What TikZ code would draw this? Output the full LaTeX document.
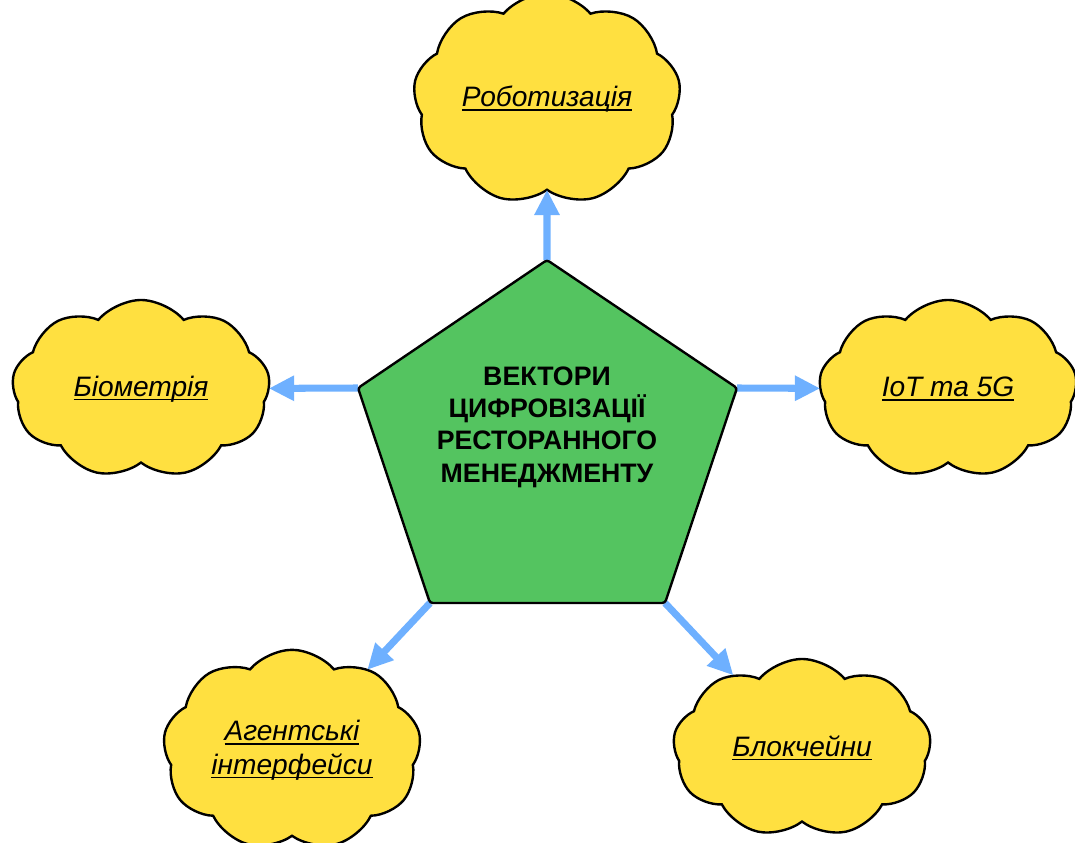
\documentclass[tikz,border=0pt]{standalone}
\usepackage{fontspec}
\setmainfont{Liberation Sans}
\usetikzlibrary{shapes.symbols,arrows.meta}

\definecolor{cloudYellow}{RGB}{255,224,64}
\definecolor{hubGreen}{RGB}{84,196,96}
\definecolor{arrowBlue}{RGB}{110,176,255}

% underlined trend label
\newcommand{\trendLine}[1]{\setbox0\hbox{#1}\rlap{\rule[-3pt]{\wd0}{1.1pt}}\box0}

\tikzset{
	trendCloud/.style = {cloud, cloud puffs=9, cloud puff arc=100, aspect=1.4,
		draw=black, line width=1.7pt, fill=cloudYellow,
		minimum width=6.45cm, minimum height=4.45cm, align=center,
		font=\fontsize{20}{24}\selectfont\itshape},
	trendArrow/.style = {arrowBlue, line width=5pt, -{Triangle[length=18pt,width=17pt]}, shorten >=-1pt}
}

\begin{document}
\begin{tikzpicture}
	\useasboundingbox (0,0) rectangle (26.875,21.075);

	% pentagon
	\coordinate (hubTop) at (13.675,14.575);
	\coordinate (hubRight) at (18.425,11.375);
	\coordinate (hubLowRight) at (16.625,6.0);
	\coordinate (hubLowLeft) at (10.75,6.0);
	\coordinate (hubLeft) at (8.95,11.375);

	% clouds
	\node[trendCloud] (robotics) at (13.675,18.6) {\trendLine{Роботизація}};
	\node[trendCloud] (biometrics) at (3.525,11.35) {\trendLine{Біометрія}};
	\node[trendCloud] (iot) at (23.7,11.35) {\trendLine{IoT та 5G}};
	\node[trendCloud] (agents) at (7.3,2.325) {\trendLine{Агентські}\\\trendLine{інтерфейси}};
	\node[trendCloud] (blockchain) at (20.05,2.375) {\trendLine{Блокчейни}};

	% arrows
	\draw[trendArrow] (hubTop) -- (robotics);
	\draw[trendArrow] (hubLeft) -- (biometrics);
	\draw[trendArrow] (hubRight) -- (iot);
	\draw[trendArrow] (hubLowLeft) -- (agents);
	\draw[trendArrow] (hubLowRight) -- (blockchain);

	\draw[fill=hubGreen, line width=1.7pt, rounded corners=2pt]
		(hubTop) -- (hubRight) -- (hubLowRight) -- (hubLowLeft) -- (hubLeft) -- cycle;
	\node[align=center, font=\fontsize{19}{23}\selectfont\bfseries] (hub) at (13.675,10.4)
		{ВЕКТОРИ\\ЦИФРОВІЗАЦІЇ\\РЕСТОРАННОГО\\МЕНЕДЖМЕНТУ};
\end{tikzpicture}
\end{document}
